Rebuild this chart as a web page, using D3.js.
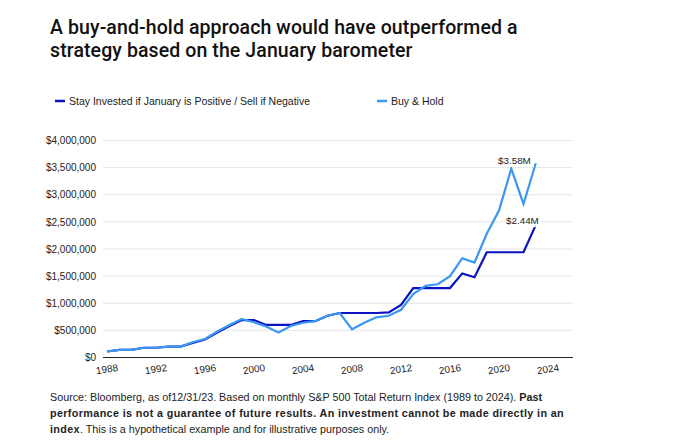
<!DOCTYPE html>
<html><head><meta charset="utf-8">
<script src="https://cdn.jsdelivr.net/npm/d3@7"></script>
<style>
html,body{margin:0;padding:0;background:#fff;}
svg{display:block;}
</style></head>
<body>
<script>
const years = [1988,1989,1990,1991,1992,1993,1994,1995,1996,1997,1998,1999,2000,2001,2002,2003,2004,2005,2006,2007,2008,2009,2010,2011,2012,2013,2014,2015,2016,2017,2018,2019,2020,2021,2022,2023];
const januaryStrategy = [110000,140000,140000,180000,180000,200000,200000,270000,330000,460000,580000,690000,690000,600000,600000,600000,670000,670000,770000,820000,820000,820000,820000,830000,970000,1280000,1280000,1280000,1280000,1550000,1480000,1940000,1940000,1940000,1940000,2440000];
const buyHold = [110000,140000,140000,180000,180000,200000,200000,280000,340000,480000,600000,710000,650000,570000,460000,580000,640000,670000,770000,820000,520000,640000,740000,770000,880000,1170000,1320000,1350000,1500000,1830000,1750000,2280000,2710000,3480000,2830000,3580000];
const seriesNames = ["Stay Invested if January is Positive / Sell if Negative","Buy & Hold"];
const endLabels = ["$2.44M","$3.58M"];
const yTicks = [0,500000,1000000,1500000,2000000,2500000,3000000,3500000,4000000];
const xTicks = [1988,1992,1996,2000,2004,2008,2012,2016,2020,2024];
const titleLines = ["A buy-and-hold approach would have outperformed a","strategy based on the January barometer"];

(function(){
const W = 690, H = 446;
const colors = ["#0a12c4", "#3b97f3"];
const svg = d3.select("body").append("svg").attr("width", W).attr("height", H);
const font = "'Liberation Sans', Arial, sans-serif";

// title
svg.append("g").selectAll("text").data(titleLines).join("text")
  .attr("x", 50).attr("y", (d,i) => 34 + i*23)
  .attr("font-family", "Roboto, sans-serif").attr("font-weight", 500)
  .attr("font-size", 19.5).attr("letter-spacing", 0.1).attr("fill", "#111").text(d => d);

// legend
const legX = [55, 377];
const leg = svg.append("g").selectAll("g").data(seriesNames).join("g")
  .attr("transform", (d,i) => `translate(${legX[i]},101)`);
leg.append("rect").attr("x", 0).attr("y", -1.25).attr("width", 10).attr("height", 2.5).attr("fill", (d,i) => colors[i]);
leg.append("text").attr("x", 14).attr("y", 3.7).attr("font-family", font).attr("font-size", 10.5)
  .attr("fill", "#222").text(d => d);

// scales
const pLeft = 103, pRight = 573, pTop = 140.5, pBottom = 357.5;
const x = d3.scaleLinear().domain([1988, 2026]).range([107, 572.5]);
const y = d3.scaleLinear().domain([0, 4000000]).range([pBottom, pTop]);

// grid
svg.append("g").selectAll("line").data(yTicks.filter(d => d > 0)).join("line")
  .attr("x1", pLeft).attr("x2", pRight).attr("y1", d => y(d)).attr("y2", d => y(d))
  .attr("stroke", "#e6e6e6").attr("stroke-width", 1);

// y axis
const yAxis = svg.append("g").attr("transform", `translate(${pLeft},0)`)
  .call(d3.axisLeft(y).tickValues(yTicks).tickSize(0).tickPadding(7).tickFormat(d => "$" + d3.format(",")(d)));
yAxis.select(".domain").remove();
yAxis.selectAll("text").attr("font-family", font).attr("font-size", 10).attr("fill", "#222");

// x axis
const xAxis = svg.append("g").attr("transform", `translate(0,${pBottom})`)
  .call(d3.axisBottom(x).tickValues(xTicks).tickSize(0).tickFormat(d3.format("d")));
xAxis.select(".domain").remove();
xAxis.selectAll("text").attr("font-family", font).attr("font-size", 10).attr("fill", "#222")
  .attr("text-anchor", "middle").attr("dy", null).attr("y", 0)
  .attr("transform", "translate(0,15) rotate(-9)");
svg.append("line").attr("x1", pLeft).attr("x2", pRight).attr("y1", pBottom).attr("y2", pBottom)
  .attr("stroke", "#222").attr("stroke-width", 1);

// lines
const line = d3.line().x((d,i) => x(years[i])).y(d => y(d));
const series = [januaryStrategy, buyHold];
svg.append("g").selectAll("path").data(series).join("path")
  .attr("d", d => line(d)).attr("fill", "none")
  .attr("stroke", (d,i) => colors[i]).attr("stroke-width", 2.2).attr("stroke-linejoin", "miter");

// end labels
const labOffsets = [[3, -1], [-5, 0.5]];
series.forEach((s, i) => {
  const lx = x(years[years.length-1]) + labOffsets[i][0];
  const ly = y(s[s.length-1]) + labOffsets[i][1];
  const g = svg.append("g");
  const t = g.append("text").attr("x", lx).attr("y", ly).attr("text-anchor", "end")
    .attr("font-family", font).attr("font-size", 9.8).attr("fill", "#222").text(endLabels[i]);
  const bb = t.node().getBBox();
  g.insert("rect", "text").attr("x", bb.x - 3).attr("y", bb.y - 1).attr("width", bb.width + 6).attr("height", bb.height + 2)
    .attr("fill", "#fff").attr("opacity", 0.85);
});

// footnote
const foot = svg.append("g").attr("font-family", font).attr("font-size", 10.75).attr("fill", "#222");
const f1 = foot.append("text").attr("x", 50).attr("y", 400.5);
f1.append("tspan").text("Source: Bloomberg, as of12/31/23. Based on monthly S&P 500 Total Return Index (1989 to 2024). ");
f1.append("tspan").attr("font-weight", "bold").text("Past");
foot.append("text").attr("x", 50).attr("y", 416.8).attr("font-weight", "bold").attr("letter-spacing", 0.38)
  .text("performance is not a guarantee of future results. An investment cannot be made directly in an");
const f3 = foot.append("text").attr("x", 50).attr("y", 433);
f3.append("tspan").attr("font-weight", "bold").attr("letter-spacing", 0.38).text("index");
f3.append("tspan").text(". This is a hypothetical example and for illustrative purposes only.");
})();
</script>
</body></html>
